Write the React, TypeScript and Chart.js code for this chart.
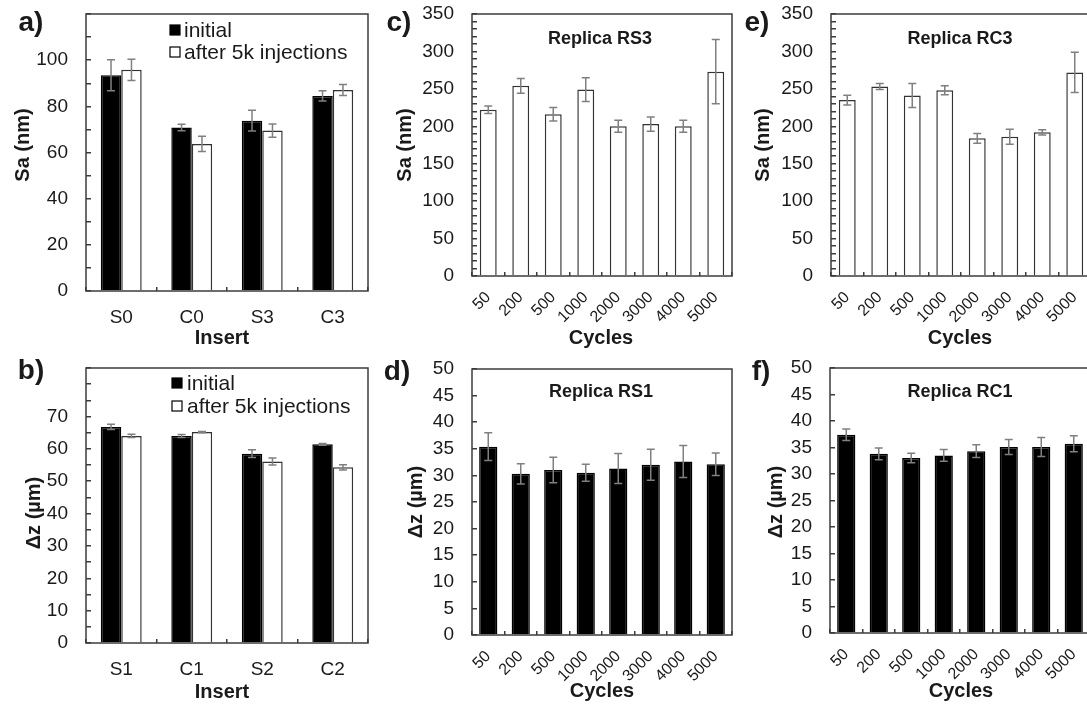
import React, { useEffect, useRef } from "react";
import { Chart, registerables } from "chart.js";

Chart.register(...registerables);

// ---------- data ----------
const insertsA = ["S0", "C0", "S3", "C3"];
const saInitial = [93.5, 70.8, 73.8, 84.5];
const saInitialErr = [6.7, 1.4, 4.5, 2.2];
const saAfter = [95.8, 63.7, 69.5, 87.1];
const saAfterErr = [4.6, 3.3, 2.9, 2.4];

const insertsB = ["S1", "C1", "S2", "C2"];
const dzInitial = [66.8, 64.0, 58.5, 61.4];
const dzInitialErr = [0.8, 0.45, 1.2, 0.3];
const dzAfter = [64.0, 65.2, 56.1, 54.3];
const dzAfterErr = [0.5, 0.2, 1.1, 0.8];

const cycles = ["50", "200", "500", "1000", "2000", "3000", "4000", "5000"];
const saRS3 = [222, 254, 216, 249, 200, 203, 200, 273];
const saRS3Err = [5, 10, 9, 16, 8, 9.5, 8, 43];
const saRC3 = [235, 253, 241, 248, 184, 186, 192, 272];
const saRC3Err = [6.5, 4, 16, 6, 6.5, 10, 3.5, 27];
const dzRS1 = [35.4, 30.3, 31.0, 30.5, 31.3, 32.0, 32.6, 32.1];
const dzRS1Err = [2.6, 1.9, 2.4, 1.6, 2.8, 2.9, 3.0, 2.1];
const dzRC1 = [37.4, 33.8, 33.0, 33.5, 34.3, 35.1, 35.1, 35.7];
const dzRC1Err = [1.1, 1.1, 0.9, 1.1, 1.2, 1.4, 1.8, 1.5];

const legendLabels = ["initial", "after 5k injections"];

// ---------- styling / layout ----------
const FONT = "'Liberation Sans', Arial, Helvetica, sans-serif";
const TEXT = "#1a1a1a";
const FRAME = "#3c3c3c";
const ERR = "#808080";

type Series = { values: number[]; errors: number[]; dark: boolean };
type Panel = {
  rect: [number, number, number, number];
  area: [number, number, number, number];
  labels: string[];
  series: Series[];
  yMax: number;
  yStep: number;
  labelStep: number;
  labelMax: number;
  rotated: boolean;
  catPct: number;
  barPct: number;
  xPad: number;
  xFont: number;
  letter: string;
  letterPos: [number, number];
  yTitle: string;
  yTitlePos: [number, number];
  xTitle: string;
  xTitlePos: [number, number];
  title?: string;
  titlePos?: [number, number];
  legend?: { x: number; y: number; gap: number; textX: number };
};

const panels: Panel[] = [
  {
    rect: [0, 0, 380, 350],
    area: [86, 14, 368, 291],
    labels: insertsA,
    series: [
      { values: saInitial, errors: saInitialErr, dark: true },
      { values: saAfter, errors: saAfterErr, dark: false },
    ],
    yMax: 120, yStep: 10, labelStep: 20, labelMax: 100,
    rotated: false, catPct: 0.58, barPct: 1, xPad: 19, xFont: 19,
    letter: "a)", letterPos: [31, 23],
    yTitle: "Sa (nm)", yTitlePos: [23, 145],
    xTitle: "Insert", xTitlePos: [222, 338],
    legend: { x: 170, y: 30, gap: 22, textX: 184 },
  },
  {
    rect: [0, 350, 380, 357],
    area: [86, 368, 368, 643],
    labels: insertsB,
    series: [
      { values: dzInitial, errors: dzInitialErr, dark: true },
      { values: dzAfter, errors: dzAfterErr, dark: false },
    ],
    yMax: 85, yStep: 5, labelStep: 10, labelMax: 70,
    rotated: false, catPct: 0.58, barPct: 1, xPad: 19, xFont: 19,
    letter: "b)", letterPos: [31, 371],
    yTitle: "\u0394z (\u00b5m)", yTitlePos: [34, 513],
    xTitle: "Insert", xTitlePos: [222, 692],
    legend: { x: 172, y: 383, gap: 23, textX: 187 },
  },
  {
    rect: [372, 0, 368, 350],
    area: [472, 14, 732, 276],
    labels: cycles,
    series: [{ values: saRS3, errors: saRS3Err, dark: false }],
    yMax: 350, yStep: 10, labelStep: 50, labelMax: 350,
    rotated: true, catPct: 1, barPct: 0.52, xPad: 16, xFont: 16,
    letter: "c)", letterPos: [399, 23],
    yTitle: "Sa (nm)", yTitlePos: [405, 145],
    xTitle: "Cycles", xTitlePos: [601, 338],
    title: "Replica RS3", titlePos: [600, 39],
  },
  {
    rect: [372, 350, 368, 357],
    area: [472, 369, 732, 635],
    labels: cycles,
    series: [{ values: dzRS1, errors: dzRS1Err, dark: true }],
    yMax: 50, yStep: 5, labelStep: 5, labelMax: 50,
    rotated: true, catPct: 1, barPct: 0.56, xPad: 16, xFont: 16,
    letter: "d)", letterPos: [397, 372],
    yTitle: "\u0394z (\u00b5m)", yTitlePos: [416, 502],
    xTitle: "Cycles", xTitlePos: [602, 691],
    title: "Replica RS1", titlePos: [601, 392],
  },
  {
    rect: [740, 0, 360, 350],
    area: [831, 14, 1091, 276],
    labels: cycles,
    series: [{ values: saRC3, errors: saRC3Err, dark: false }],
    yMax: 350, yStep: 10, labelStep: 50, labelMax: 350,
    rotated: true, catPct: 1, barPct: 0.52, xPad: 16, xFont: 16,
    letter: "e)", letterPos: [757, 23],
    yTitle: "Sa (nm)", yTitlePos: [763, 145],
    xTitle: "Cycles", xTitlePos: [960, 338],
    title: "Replica RC3", titlePos: [960, 39],
  },
  {
    rect: [740, 350, 360, 357],
    area: [830, 368, 1090, 633],
    labels: cycles,
    series: [{ values: dzRC1, errors: dzRC1Err, dark: true }],
    yMax: 50, yStep: 5, labelStep: 5, labelMax: 50,
    rotated: true, catPct: 1, barPct: 0.56, xPad: 16, xFont: 16,
    letter: "f)", letterPos: [761, 372],
    yTitle: "\u0394z (\u00b5m)", yTitlePos: [776, 502],
    xTitle: "Cycles", xTitlePos: [961, 691],
    title: "Replica RC1", titlePos: [960, 392],
  },
];

function decorPlugin(p: Panel) {
  const [cl, ct] = p.rect;
  return {
    id: "panelDecor",
    afterDatasetsDraw(chart: any) {
      const ctx = chart.ctx as CanvasRenderingContext2D;
      const ys = chart.scales.y;
      ctx.save();
      p.series.forEach((s, di) => {
        const meta = chart.getDatasetMeta(di);
        meta.data.forEach((bar: any, i: number) => {
          const v = s.values[i];
          const e = s.errors[i];
          const x = bar.x;
          const y1 = ys.getPixelForValue(v + e);
          const y2 = ys.getPixelForValue(v - e);
          ctx.strokeStyle = ERR;
          ctx.lineWidth = 1.5;
          ctx.beginPath();
          ctx.moveTo(x, y1);
          ctx.lineTo(x, y2);
          ctx.moveTo(x - 4, y1);
          ctx.lineTo(x + 4, y1);
          ctx.moveTo(x - 4, y2);
          ctx.lineTo(x + 4, y2);
          ctx.stroke();
        });
      });
      const a = chart.chartArea;
      ctx.strokeStyle = FRAME;
      ctx.lineWidth = 1.5;
      ctx.strokeRect(a.left, a.top, a.right - a.left, a.bottom - a.top);
      ctx.restore();
    },
    afterDraw(chart: any) {
      const ctx = chart.ctx as CanvasRenderingContext2D;
      ctx.save();
      ctx.fillStyle = TEXT;
      ctx.textAlign = "center";
      ctx.textBaseline = "middle";
      // panel letter
      ctx.font = `bold 28px ${FONT}`;
      ctx.fillText(p.letter, p.letterPos[0] - cl, p.letterPos[1] - ct);
      // x title
      ctx.font = `bold 20px ${FONT}`;
      ctx.fillText(p.xTitle, p.xTitlePos[0] - cl, p.xTitlePos[1] - ct);
      // y title
      ctx.save();
      ctx.translate(p.yTitlePos[0] - cl, p.yTitlePos[1] - ct);
      ctx.rotate(-Math.PI / 2);
      ctx.fillText(p.yTitle, 0, 0);
      ctx.restore();
      // inner title
      if (p.title && p.titlePos) {
        ctx.font = `bold 18px ${FONT}`;
        ctx.fillText(p.title, p.titlePos[0] - cl, p.titlePos[1] - ct);
      }
      // legend
      if (p.legend) {
        const lg = p.legend;
        ctx.font = `21px ${FONT}`;
        ctx.textAlign = "left";
        legendLabels.forEach((lab, i) => {
          const yy = lg.y + i * lg.gap - ct;
          const xx = lg.x - cl;
          ctx.lineWidth = 1.2;
          ctx.strokeStyle = "#000";
          ctx.fillStyle = p.series[i].dark ? "#000" : "#fff";
          ctx.fillRect(xx, yy - 5, 10, 10);
          ctx.strokeRect(xx, yy - 5, 10, 10);
          ctx.fillStyle = TEXT;
          ctx.fillText(lab, lg.textX - cl, yy + 1);
        });
      }
      ctx.restore();
    },
  };
}

function makeConfig(p: Panel): any {
  const [cl, ct, cw, ch] = p.rect;
  const [al, at, ar, ab] = p.area;
  const yWidth = al - cl;
  const padTop = at - ct;
  const padRight = cl + cw - ar;
  const xHeight = ct + ch - ab;
  const rot = p.rotated ? 45 : 0;
  return {
    type: "bar",
    data: {
      labels: p.labels,
      datasets: p.series.map((s) => ({
        data: s.values,
        backgroundColor: s.dark ? "#000000" : "#ffffff",
        borderColor: s.dark ? "#000000" : "#333333",
        borderWidth: 1.5,
        categoryPercentage: p.catPct,
        barPercentage: p.barPct,
      })),
    },
    options: {
      responsive: false,
      animation: false,
      events: [],
      layout: { padding: { left: 0, top: padTop, right: padRight, bottom: 0 } },
      plugins: {
        legend: { display: false },
        tooltip: { enabled: false },
        title: { display: false },
      },
      scales: {
        x: {
          grid: {
            offset: true,
            drawOnChartArea: false,
            drawTicks: true,
            tickLength: -4,
            color: FRAME,
            lineWidth: 1.5,
          },
          border: { display: false },
          ticks: {
            autoSkip: false,
            minRotation: rot,
            maxRotation: rot,
            padding: p.xPad,
            color: TEXT,
            font: { family: FONT, size: p.xFont },
          },
          afterFit: (s: any) => {
            s.height = xHeight;
            s.paddingLeft = 0;
            s.paddingRight = 0;
          },
        },
        y: {
          min: 0,
          max: p.yMax,
          grid: {
            drawOnChartArea: false,
            drawTicks: true,
            tickLength: -5,
            color: FRAME,
            lineWidth: 1.5,
          },
          border: { display: false },
          ticks: {
            stepSize: p.yStep,
            autoSkip: false,
            maxTicksLimit: 1000,
            padding: 23,
            color: TEXT,
            font: { family: FONT, size: 19 },
            callback: (v: any) => {
              const n = Number(v);
              return Math.abs(n % p.labelStep) < 1e-9 && n <= p.labelMax ? String(n) : "";
            },
          },
          afterFit: (s: any) => {
            s.width = yWidth;
            s.paddingTop = 0;
            s.paddingBottom = 0;
          },
        },
      },
    },
    plugins: [decorPlugin(p)],
  };
}

export default function App() {
  const refs = useRef<(HTMLCanvasElement | null)[]>([]);
  useEffect(() => {
    const charts = panels.map((p, i) => {
      const c = refs.current[i]!;
      return new Chart(c, makeConfig(p));
    });
    return () => charts.forEach((c) => c.destroy());
  }, []);
  return (
    <div
      style={{
        position: "absolute",
        left: 0,
        top: 0,
        width: 1087,
        height: 707,
        overflow: "hidden",
        background: "#ffffff",
      }}
    >
      {panels.map((p, i) => (
        <canvas
          key={i}
          ref={(el) => {
            refs.current[i] = el;
          }}
          width={p.rect[2]}
          height={p.rect[3]}
          style={{
            position: "absolute",
            left: p.rect[0],
            top: p.rect[1],
            width: p.rect[2],
            height: p.rect[3],
          }}
        />
      ))}
    </div>
  );
}
